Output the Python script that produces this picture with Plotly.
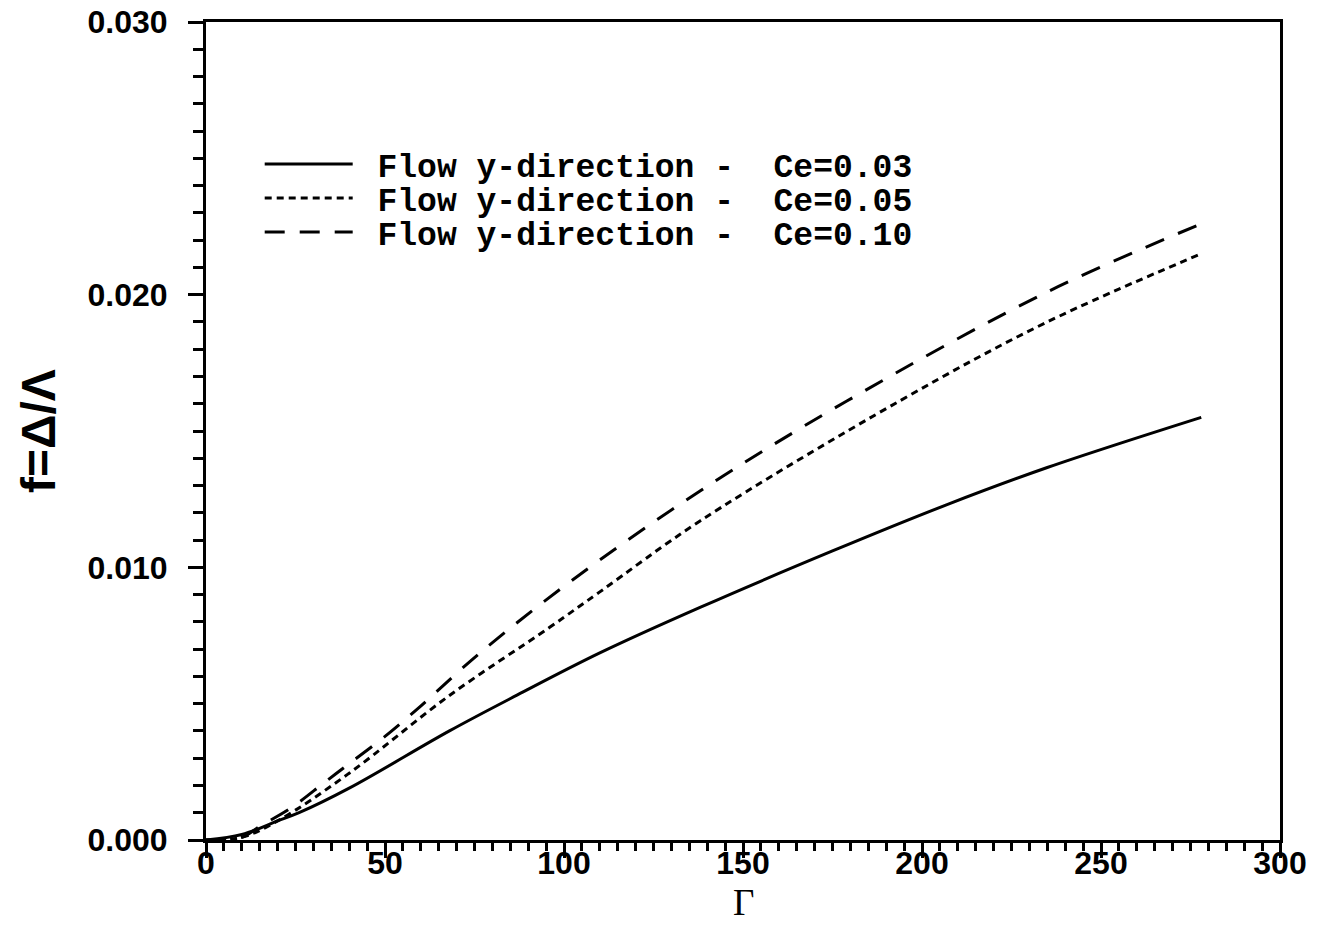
import plotly.graph_objects as go

# Data
gamma_a = [0, 10, 20, 26, 40, 68, 87, 110, 138, 175, 207, 235, 278]
f_ce003 = [0, 0.0002, 0.0007, 0.0010, 0.0019, 0.0040, 0.00532, 0.00686, 0.00853, 0.0106, 0.0123, 0.01366, 0.0155]

gamma_b = [0, 10, 20, 40, 68, 96, 110, 138, 194, 235, 278]
f_ce005 = [0, 0.0001, 0.0007, 0.00245, 0.0053, 0.0078, 0.0091, 0.0117, 0.01612, 0.0190, 0.0215]

gamma_c = [0, 10, 15, 24, 33, 40, 50, 59, 76, 102, 138, 179, 235, 278]
f_ce010 = [0, 0.0001, 0.0005, 0.0012, 0.0021, 0.0028, 0.0038, 0.0048, 0.0068, 0.0095, 0.0128, 0.0161, 0.0201, 0.0226]

series_names = ["\u00a0Flow y-direction -  Ce=0.03",
                "\u00a0Flow y-direction -  Ce=0.05",
                "\u00a0Flow y-direction -  Ce=0.10"]

x_ticks = [0, 50, 100, 150, 200, 250, 300]
y_ticks = [0.0, 0.010, 0.020, 0.030]
y_ticklabels = ["0.000", "0.010", "0.020", "0.030"]

fig = go.Figure()
styles = [("solid", gamma_a, f_ce003), ("7px,5px", gamma_b, f_ce005), ("20px,15px", gamma_c, f_ce010)]
legend_ids = ["legend", "legend2", "legend3"]
for name, (dash, gx, fy), lid in zip(series_names, styles, legend_ids):
    fig.add_trace(go.Scatter(
        x=gx, y=fy, mode="lines", name=name, legend=lid,
        line=dict(color="black", width=3, dash=dash, shape="spline", smoothing=1.0),
    ))

tickfont = dict(family="Liberation Sans, Arial, sans-serif", size=32, color="black", weight="bold")
legend_font = dict(family="Liberation Mono, Courier New, monospace", size=33, color="black", weight="bold")

def legend_box(ypos):
    return dict(x=0.05, y=ypos, xanchor="left", yanchor="middle",
                bgcolor="rgba(0,0,0,0)", font=legend_font, itemwidth=88)

fig.update_layout(
    width=1318, height=927,
    margin=dict(l=206, r=38, t=22, b=87, autoexpand=False),
    paper_bgcolor="white", plot_bgcolor="white",
    showlegend=True,
    legend=legend_box(0.8264),
    legend2=legend_box(0.7848),
    legend3=legend_box(0.7433),
    xaxis=dict(
        range=[0, 300], tickvals=x_ticks, ticks="outside", ticklen=15, tickwidth=3,
        tickcolor="black", showline=True, linewidth=3, linecolor="black", mirror=True,
        showgrid=False, zeroline=False, tickfont=tickfont, automargin=False,
        ticklabelstandoff=-22,
        minor=dict(dtick=5, ticks="outside", ticklen=8, tickwidth=3, tickcolor="black", showgrid=False),
    ),
    yaxis=dict(
        range=[0, 0.030], tickvals=y_ticks, ticktext=y_ticklabels, ticks="outside", ticklen=15, tickwidth=3,
        tickcolor="black", showline=True, linewidth=3, linecolor="black", mirror=True,
        showgrid=False, zeroline=False, tickfont=tickfont, ticklabelstandoff=14, automargin=False,
        minor=dict(dtick=0.001, ticks="outside", ticklen=10, tickwidth=3, tickcolor="black", showgrid=False),
    ),
    annotations=[
        dict(text="Γ", xref="paper", yref="paper", x=0.5, y=-0.0758, xanchor="center", yanchor="middle",
             showarrow=False, font=dict(family="Liberation Serif, Times New Roman, serif", size=37, color="black")),
        dict(text="f=Δ/Λ", xref="paper", yref="paper", x=-0.1564, y=0.5, xanchor="center", yanchor="middle",
             textangle=-90, showarrow=False,
             font=dict(family="Liberation Sans, Arial, sans-serif", size=48, color="black", weight="bold")),
    ],
)

fig.write_html("out.html")
